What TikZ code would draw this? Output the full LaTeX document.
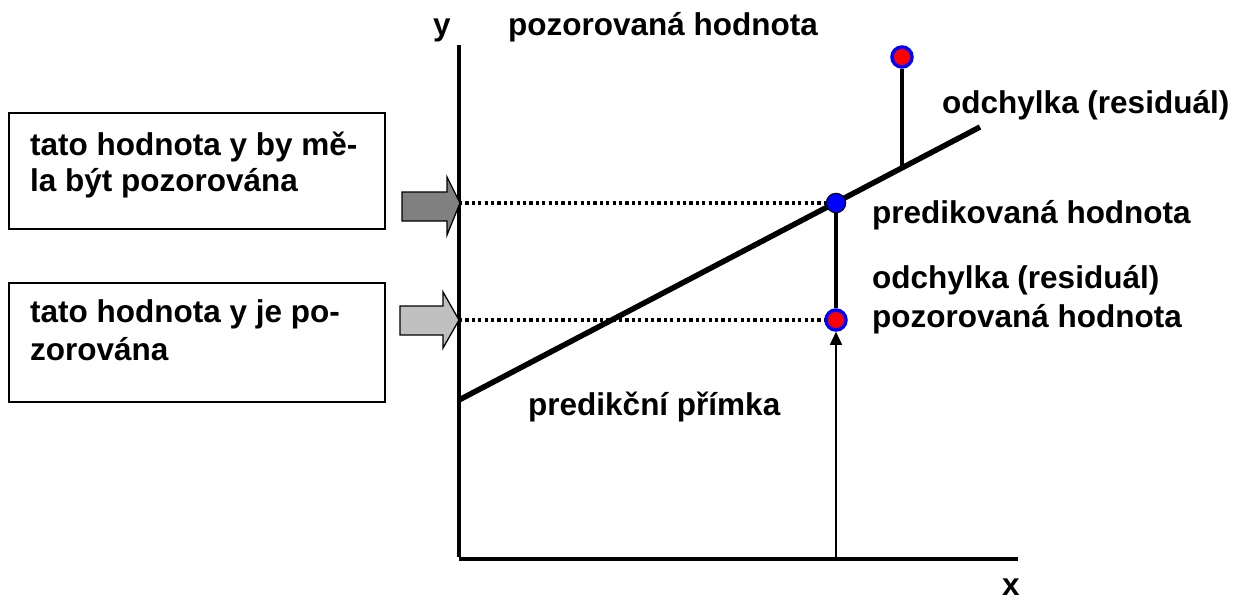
\documentclass[tikz,border=0pt]{standalone}
\usepackage{fontspec}
\setmainfont{Liberation Sans}
\usetikzlibrary{arrows.meta}

\definecolor{darkarrow}{RGB}{128,128,128}
\definecolor{lightarrow}{RGB}{192,192,192}

\tikzset{
  lbl/.style={anchor=base west,inner sep=0,font=\fontsize{31.5}{37}\selectfont\bfseries},
  obsdot/.style={circle,fill=red,draw=blue,line width=3.5pt,minimum size=20pt,inner sep=0},
  preddot/.style={circle,fill=blue,draw=black,line width=1pt,minimum size=19.5pt,inner sep=0},
  resid/.style={line width=3.2pt},
  guide/.style={line width=3.2pt,dash pattern=on 3.2pt off 3.2pt},
}

\begin{document}
\begin{tikzpicture}[x=1pt,y=-1pt]
\useasboundingbox (0,0) rectangle (1239,600);

% axes
\coordinate (origin) at (459,557);
\coordinate (ytop) at (459,45);
\coordinate (xend) at (1018,557);
\draw[line width=4.2pt] (ytop) -- (origin);
\draw[line width=3.5pt] (459,558.75) -- (xend |- 0,558.75);
\node[lbl] (ylab) at (433,35) {y};
\node[lbl] (xlab) at (1002,595) {x};

% prediction line
\coordinate (lstart) at (459,400);
\coordinate (lend) at (980,127);
\draw[line width=5.5pt] (lstart) -- (lend);

% points
\node[preddot] (pred) at (836,203) {};
\node[obsdot] (obs) at (836,320) {};
\node[obsdot] (obstop) at (902,57) {};
\coordinate (foot) at (902,168);
\coordinate (xfoot) at (836,557);
\coordinate (ya) at (459,203);
\coordinate (yb) at (459,320);

\draw[resid] (pred) -- (obs);
\draw[resid] (obstop) -- (foot);
\draw[line width=1.4pt,-{Triangle[length=13pt,width=12pt]}] (xfoot) -- (obs);
\draw[guide] (ya) -- (pred);
\draw[guide] (yb) -- (obs);

% block arrows
\draw[fill=darkarrow,line width=1.3pt] (402,192) -- (447,192) -- (447,177) -- (460,203)
  -- (447,235) -- (447,221) -- (402,221) -- cycle;
\draw[fill=lightarrow,line width=1.3pt] (400,306) -- (443,306) -- (443,292) -- (459,320)
  -- (443,348) -- (443,335) -- (400,335) -- cycle;

% boxes
\draw[line width=1.3pt] (9,113) rectangle (385,229);
\node[lbl] (boxa1) at (30,155) {tato hodnota y by mě-};
\node[lbl] (boxa2) at (30,191) {la být pozorována};
\draw[line width=1.3pt] (9,283) rectangle (385,402);
\node[lbl] (boxb1) at (30,322) {tato hodnota y je po-};
\node[lbl] (boxb2) at (30,360) {zorována};

% labels
\node[lbl] (toplab) at (508,35) {pozorovaná hodnota};
\node[lbl] (residtop) at (942,113) {odchylka (residuál)};
\node[lbl] (predlab) at (872,223) {predikovaná hodnota};
\node[lbl] (residlab) at (872,288) {odchylka (residuál)};
\node[lbl] (obslab) at (872,327) {pozorovaná hodnota};
\node[lbl] (linelab) at (528,415) {predikční přímka};
\end{tikzpicture}
\end{document}
